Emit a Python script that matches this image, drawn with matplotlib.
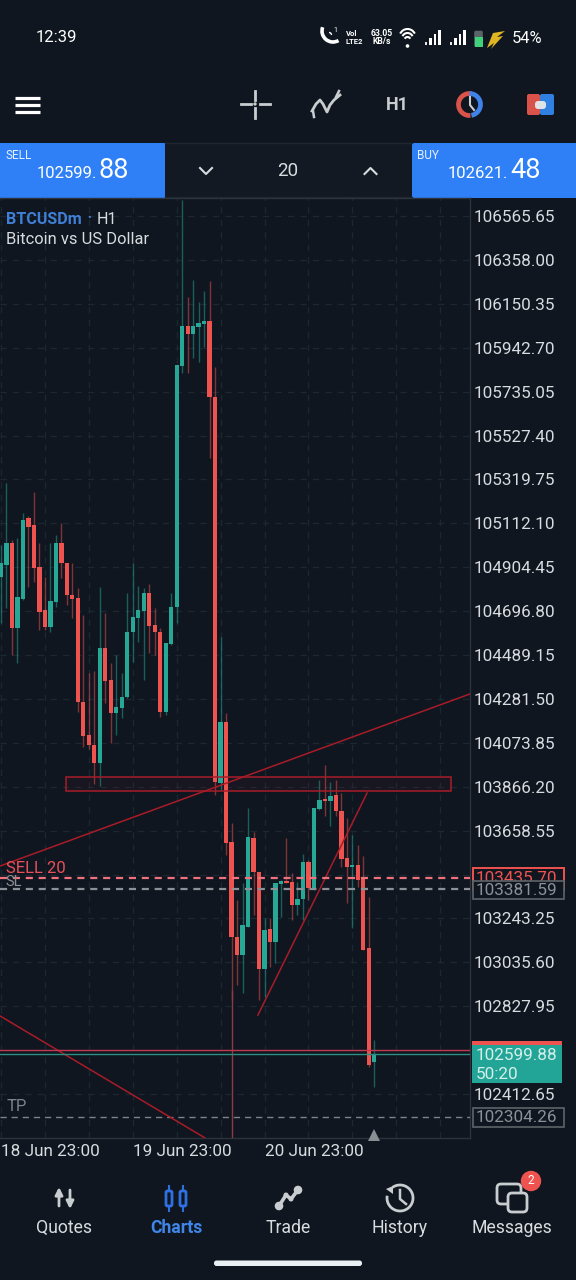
import matplotlib
matplotlib.use("Agg")
import matplotlib.pyplot as plt
from matplotlib.patches import Rectangle, FancyBboxPatch, Circle, Arc, Polygon

plt.rcParams['font.family'] = ['Roboto', 'DejaVu Sans']

# hourly candles
opens = [104858, 104915, 105019, 104617, 104754, 105137, 105104, 104905, 104702, 104622,
         104740, 105019, 104924, 104773, 104759, 104267, 104111, 104063, 103978, 104522,
         104371, 104215, 104238, 104291, 104598, 104664, 104697, 104782, 104631, 104598,
         104220, 104541, 104716, 105856, 106045, 106008, 106041, 106055, 106069, 105710,
         103884, 104172, 103605, 103155, 103070, 103203, 103624, 103463, 103004, 103193,
         103132, 103406, 103420, 103415, 103307, 103335, 103510, 103387, 103761, 103808,
         103799, 103827, 103751, 103529, 103486, 103496, 103434, 103103, 102564]
highs = [105009, 105303, 105033, 105042, 105161, 105147, 105260, 105019, 104858, 105019,
         105057, 105113, 104924, 104924, 104806, 104678, 104404, 104413, 104811, 104688,
         104451, 104489, 104404, 104782, 104924, 104816, 104806, 104825, 104711, 104617,
         104546, 104782, 105861, 106641, 106183, 106263, 106159, 106211, 106258, 105851,
         104574, 104215, 103695, 103330, 103411, 103766, 103652, 103463, 103245, 103245,
         103411, 103425, 103624, 103458, 103415, 103548, 103519, 103766, 103898, 103969,
         103889, 103898, 103836, 103718, 103638, 103590, 103538, 103344, 102668]
lows = [104640, 104711, 104489, 104451, 104749, 104811, 104834, 104607, 104607, 104598,
        104716, 104853, 104726, 104664, 104220, 104054, 104045, 103879, 103870, 104262,
        104073, 104111, 104191, 104286, 104456, 104551, 104371, 104499, 104489, 104196,
        104205, 104536, 104640, 105823, 105823, 105894, 105875, 105946, 105421, 103827,
        103851, 103543, 102857, 102928, 102890, 103203, 103259, 102857, 102872, 103013,
        103032, 103250, 103411, 103236, 103259, 103236, 103330, 103378, 103756, 103727,
        103680, 103727, 103486, 103316, 103198, 103392, 103094, 102541, 102446]
closes = [104924, 105019, 104617, 104763, 105128, 105095, 104901, 104693, 104622, 104745,
          105019, 104924, 104773, 104754, 104267, 104106, 104063, 103978, 104522, 104366,
          104215, 104243, 104291, 104598, 104669, 104702, 104782, 104626, 104598, 104220,
          104546, 104716, 105861, 106045, 106008, 106045, 106059, 106069, 105710, 103889,
          104172, 103600, 103155, 103070, 103212, 103628, 103463, 103004, 103188, 103132,
          103411, 103420, 103411, 103307, 103335, 103510, 103387, 103766, 103803, 103799,
          103822, 103751, 103524, 103486, 103496, 103425, 103094, 102550, 102597]

price_ticks = [106565.65, 106358.00, 106150.35, 105942.70, 105735.05, 105527.40, 105319.75,
               105112.10, 104904.45, 104696.80, 104489.15, 104281.50, 104073.85, 103866.20,
               103658.55, 103450.90, 103243.25, 103035.60, 102827.95, 102620.30, 102412.65]
hidden_ticks = [103450.90, 102620.30]  # sit under the price boxes
time_tick_pos = [0, 24, 48]
time_labels = ['18 Jun 23:00', '19 Jun 23:00', '20 Jun 23:00']

ask = 102621.48
bid = 102599.88
sell_price = 103435.70
sl_price = 103381.59
tp_price = 102304.26

box_x = [11.84, 81.97]
box_y = [103846, 103912]
trend1_x = [-0.18, 85.43]
trend1_y = [103491, 104305]
trend2_x = [46.8, 66.67]
trend2_y = [102786, 103836]
trend3_x = [-0.18, 37.16]
trend3_y = [102782, 102205]
line_x = [42, 42]
line_y = [102205, 102900]

BG = '#0f1620'
GRID = '#1d2732'
FRAME = '#2b333c'
GREEN = '#27a897'
RED = '#ef5350'
LINE_RED = '#a81c28'
BLUE = '#2f80f6'
TXT = '#d8dcdf'
ICON = '#c9cdd0'

# chart area in screen pixels
AX_L, AX_R, AX_T, AX_B = 0, 470, 198, 1138
YMIN, YMAX = 102204.6, 106650.8
XMIN, XMAX = -0.18, 85.43


def price_px(p):
    return AX_T + (YMAX - p) / (YMAX - YMIN) * (AX_B - AX_T)


fig = plt.figure(figsize=(5.76, 12.8), dpi=100, facecolor=BG)

# full screen axes for the app chrome, in pixels
ui = fig.add_axes([0, 0, 1, 1], zorder=1)
ui.set_xlim(0, 576)
ui.set_ylim(1280, 0)
ui.axis('off')

ax = fig.add_axes([AX_L / 576, 1 - AX_B / 1280, (AX_R - AX_L) / 576, (AX_B - AX_T) / 1280], zorder=2)
ax.set_facecolor('none')
ax.set_xlim(XMIN, XMAX)
ax.set_ylim(YMIN, YMAX)

idx = list(range(len(opens)))
wick_colors = [GREEN if c >= o else RED for o, c in zip(opens, closes)]
ax.vlines(idx, lows, highs, colors=wick_colors, linewidth=1.0, alpha=0.5, zorder=3)
bottoms = [min(o, c) for o, c in zip(opens, closes)]
heights = [abs(o - c) for o, c in zip(opens, closes)]
ax.bar(idx, heights, width=0.78, bottom=bottoms, color=wick_colors, linewidth=0, zorder=4)

ax.plot(line_x, line_y, color='#8c3a44', lw=1.0, zorder=3)
ax.plot(trend1_x, trend1_y, color=LINE_RED, lw=1.1, zorder=5)
ax.plot(trend2_x, trend2_y, color=LINE_RED, lw=1.1, zorder=5)
ax.plot(trend3_x, trend3_y, color=LINE_RED, lw=1.1, zorder=5)
ax.add_patch(Rectangle((box_x[0], box_y[0]), box_x[1] - box_x[0], box_y[1] - box_y[0],
                       fc='#c0202a', alpha=0.05, ec='none', zorder=2))
ax.add_patch(Rectangle((box_x[0], box_y[0]), box_x[1] - box_x[0], box_y[1] - box_y[0],
                       fc='none', ec=LINE_RED, lw=1.1, zorder=5))

ax.axhline(ask, color='#c23a50', lw=1.0, zorder=5)
ax.axhline(bid, color='#2b8f80', lw=1.0, zorder=5)
ax.axhline(sell_price, color='#f0707c', lw=1.6, ls=(0, (3.2, 2.6)), zorder=6)
ax.axhline(sl_price, color='#8b9196', lw=1.6, ls=(0, (3.2, 2.6)), zorder=6)
ax.axhline(tp_price, color='#7d8388', lw=1.0, ls=(0, (4.5, 3.5)), zorder=3)

ax.text(0.9, sell_price + 46, 'SELL 20', color='#e8505a', fontsize=12, va='center', zorder=7)
ax.text(0.9, sell_price - 20, 'SL', color='#8b9196', fontsize=10.5, va='center', zorder=7)
ax.text(1.0, tp_price + 50, 'TP', color='#7d8388', fontsize=12, va='center', zorder=7)

ax.text(6 / 470, 1 - 21 / 940, 'BTCUSDm', color='#3f7fd6', fontsize=11.6, fontweight='bold',
        va='center', transform=ax.transAxes, zorder=7)
ax.text(89 / 470, 1 - 20 / 940, '•', color='#3f7fd6', fontsize=8, va='center', ha='center',
        transform=ax.transAxes, zorder=7)
ax.text(97 / 470, 1 - 21 / 940, 'H1', color=TXT, fontsize=11.6, va='center',
        transform=ax.transAxes, zorder=7)
ax.text(6 / 470, 1 - 41 / 940, 'Bitcoin vs US Dollar', color=TXT, fontsize=11.85, va='center',
        transform=ax.transAxes, zorder=7)

ax.yaxis.tick_right()
ax.set_yticks(price_ticks)
ax.set_yticklabels(['' if p in hidden_ticks else f'{p:.2f}' for p in price_ticks])
ax.set_xticks(range(0, 86, 8))
ax.set_xticklabels([time_labels[time_tick_pos.index(i)] if i in time_tick_pos else ''
                    for i in range(0, 86, 8)], ha='left')
ax.tick_params(axis='y', length=0, pad=2.5, labelcolor=TXT, labelsize=12.3)
ax.tick_params(axis='x', length=0, pad=4, labelcolor=TXT, labelsize=12.3)
ax.grid(True, color=GRID, lw=0.9, ls=(0, (5, 5)), zorder=0)
ax.set_axisbelow(True)
for side in ax.spines:
    ax.spines[side].set_color(FRAME)
    ax.spines[side].set_linewidth(1.0)
ax.spines['left'].set_visible(False)

# last candle marker under the chart
ax.plot([idx[-1]], [0.003], marker='^', ms=8, color='#8a8f94', mew=0,
        transform=ax.get_xaxis_transform(), clip_on=False, zorder=7)

# price boxes right of the chart
y = price_px(sell_price)
ui.add_patch(Rectangle((473, y - 10), 91, 22, fc=BG, ec=RED, lw=1.4, zorder=2))
ui.text(476, y + 1, f'{sell_price:.2f}', color=RED, fontsize=12.3, va='center', zorder=3)
y = price_px(sl_price)
ui.add_patch(Rectangle((473, y - 8), 91, 18, fc=BG, ec='#5d6469', lw=1.2, zorder=4))
ui.text(476, y + 1, f'{sl_price:.2f}', color='#8b9196', fontsize=12.3, va='center', zorder=5)
y = price_px(ask)
ui.add_patch(Rectangle((472, y - 9), 90, 22, fc=RED, ec='none', zorder=2))
ui.text(476, y + 3, f'{ask:.2f}', color='white', fontsize=12.3, va='center', zorder=3)
y = price_px(bid)
ui.add_patch(Rectangle((472, y - 9), 90, 38, fc='#22a596', ec='none', zorder=4))
ui.text(476, y + 1, f'{bid:.2f}', color='#d5efeb', fontsize=12.3, va='center', zorder=5)
ui.text(476, y + 20, '50:20', color='#d5efeb', fontsize=12.3, va='center', zorder=5)
y = price_px(tp_price)
ui.add_patch(Rectangle((473, y - 9), 91, 19, fc=BG, ec='#5d6469', lw=1.2, zorder=4))
ui.text(476, y + 1, f'{tp_price:.2f}', color='#8b9196', fontsize=12.3, va='center', zorder=5)

# status bar
ui.text(36, 37.5, '12:39', color='white', fontsize=12, va='center')
ui.text(333, 31, '1', color='white', fontsize=5, va='center')
ui.text(346, 34, 'Vol', color='white', fontsize=5.5, va='center', fontweight='bold')
ui.text(346, 42, 'LTE2', color='white', fontsize=5.5, va='center', fontweight='bold')
ui.text(382, 33, '63.05', color='white', fontsize=6.2, va='center', ha='center', fontweight='bold')
ui.text(382, 42, 'KB/s', color='white', fontsize=6.2, va='center', ha='center', fontweight='bold')
ui.text(512, 38.5, '54%', color='white', fontsize=11.8, va='center')
# phone glyph
ui.add_patch(Arc((333, 31), 22, 22, theta1=60, theta2=200, color='white', lw=2.6))
ui.add_patch(Arc((329, 35), 5, 5, theta1=270, theta2=360, color='white', lw=1))
# wifi
for r, top in [(16, 29), (11, 33), (6, 37)]:
    ui.add_patch(Arc((407.5, top + r / 2), r, r, theta1=205, theta2=335, color='white', lw=1.5))
ui.add_patch(Circle((407.5, 46), 1.1, color='white'))
# signal bars
for x0 in [425, 450]:
    for k, h in enumerate([3, 7, 11, 15]):
        ui.add_patch(Rectangle((x0 + k * 4.4, 45 - h), 2.4, h, fc='white', ec='none',
                               alpha=1 if k else 0.9))
# battery and bolt
ui.add_patch(FancyBboxPatch((474.5, 31), 8, 15.5, boxstyle='round,pad=0.3,rounding_size=1.5',
                            fc='#5a6466', ec='none'))
ui.add_patch(Rectangle((474.5, 37), 8, 10, fc='#3fd07a', ec='none'))
ui.add_patch(Polygon([[505, 31], [493, 33], [487, 48], [494, 43], [491, 49], [503, 36], [497, 37]],
                     fc='#e0b522', ec='none'))

# toolbar
for yy in [97.5, 104.5, 111.5]:
    ui.plot([15, 40], [yy, yy], color='white', lw=2.3, solid_capstyle='butt')
for seg in [([241, 251], [104, 104]), ([259.5, 269.5], [104, 104]), ([255, 255], [91, 100]), ([255, 255], [108, 118])]:
    ui.plot(seg[0], seg[1], color=ICON, lw=2)
ui.add_patch(Circle((255, 104), 1, color=ICON))
ui.plot([312, 316, 320, 323, 327, 330, 334, 340], [111, 104, 100, 104, 112, 105, 100, 95],
        color=ICON, lw=2)
ui.plot([313, 314], [111, 117], color=ICON, lw=1.8)
ui.plot([336, 339], [97, 91], color=ICON, lw=1.8)
ui.text(397, 104.5, 'H1', color=ICON, fontsize=13, fontweight='bold', va='center', ha='center')
ui.add_patch(Arc((469.5, 104.5), 22, 22, theta1=85, theta2=280, color='#d9534a', lw=3.4))
ui.add_patch(Arc((469.5, 104.5), 22, 22, theta1=270, theta2=80, color='#3f82e8', lw=3.4))
ui.plot([470, 470, 474], [97, 105, 110], color=ICON, lw=1.5)
ui.add_patch(FancyBboxPatch((527, 94), 13, 21, boxstyle='round,pad=0,rounding_size=2', fc='#d9534a', ec='none'))
ui.add_patch(FancyBboxPatch((540, 94), 14, 21, boxstyle='round,pad=0,rounding_size=2', fc='#2f80e0', ec='none'))
ui.add_patch(FancyBboxPatch((535, 101), 11, 8, boxstyle='round,pad=0,rounding_size=3', fc='#dfe3e6', ec='none'))

# sell / buy strip
ui.add_patch(Rectangle((0, 143), 165, 54.5, fc=BLUE, ec='none'))
ui.add_patch(Rectangle((412, 143), 164, 54.5, fc=BLUE, ec='none'))
ui.add_patch(Rectangle((165, 143), 247, 54.5, fc='#121923', ec='none'))
ui.plot([165, 412], [143, 143], color='#1e2630', lw=1)
ui.plot([165, 412], [197, 197], color='#1e2630', lw=1)
ui.text(5, 155.5, 'SELL', color='#e6f0ff', fontsize=8.5, va='center')
ui.text(417, 155.5, 'BUY', color='#e6f0ff', fontsize=8.5, va='center')
ui.text(97, 173.5, '102599.', color='white', fontsize=12, va='center', ha='right')
ui.text(99, 170, '88', color='white', fontsize=19.5, va='center', ha='left')
ui.text(508, 173.5, '102621.', color='white', fontsize=12, va='center', ha='right')
ui.text(510, 170, '48', color='white', fontsize=19.5, va='center', ha='left')
ui.text(288, 171.5, '20', color=TXT, fontsize=13.5, va='center', ha='center')
ui.plot([200, 206, 212], [168, 174, 168], color=TXT, lw=1.5)
ui.plot([364.5, 370.5, 376.5], [174, 168, 174], color=TXT, lw=1.5)

# bottom navigation
nav_x = [64, 176, 288, 400, 512]
nav_labels = ['Quotes', 'Charts', 'Trade', 'History', 'Messages']
for nx, lab in zip(nav_x, nav_labels):
    col = '#3f86e8' if lab == 'Charts' else TXT
    ui.text(nx, 1228, lab, color=col, fontsize=12.7, va='center', ha='center',
            fontweight='bold' if lab == 'Charts' else 'normal')
# quotes arrows
ui.annotate('', xy=(59, 1187), xytext=(59, 1206), arrowprops=dict(arrowstyle='-|>', color=ICON, lw=2, shrinkA=0, shrinkB=0, mutation_scale=11))
ui.annotate('', xy=(70, 1209), xytext=(70, 1190), arrowprops=dict(arrowstyle='-|>', color=ICON, lw=2, shrinkA=0, shrinkB=0, mutation_scale=11))
# charts candles
for cx in [169, 183]:
    ui.plot([cx, cx], [1186, 1211], color='#2f6fe0', lw=1.5)
    ui.add_patch(FancyBboxPatch((cx - 3, 1191), 6, 15, boxstyle='round,pad=0,rounding_size=1.5',
                                fc=BG, ec='#2f6fe0', lw=2, zorder=3))
# trade zigzag
ui.plot([279, 286, 291, 298], [1206, 1195, 1199, 1190], color=ICON, lw=2.6)
for px_, py_ in [(279, 1206), (286, 1195), (291, 1199), (298, 1190)]:
    ui.add_patch(Circle((px_, py_), 3.6 if px_ in (279, 298) else 1.8, color=ICON))
# history clock
ui.add_patch(Arc((400, 1198), 26, 26, theta1=235, theta2=190, color=ICON, lw=2))
ui.add_patch(Polygon([[386, 1189], [393, 1186], [393, 1194]], fc=ICON, ec='none'))
ui.plot([400, 400, 406], [1190, 1199, 1204], color=ICON, lw=1.8)
# messages bubbles
ui.add_patch(FancyBboxPatch((497, 1184), 24, 20, boxstyle='round,pad=0,rounding_size=4',
                            fc=BG, ec=ICON, lw=2, zorder=2))
ui.add_patch(FancyBboxPatch((508, 1193), 19, 19, boxstyle='round,pad=0,rounding_size=4',
                            fc=BG, ec=ICON, lw=2, zorder=3))
ui.add_patch(Circle((531, 1181), 9.5, color='#ee5350', zorder=4))
ui.text(531, 1181, '2', color='white', fontsize=8.5, va='center', ha='center', zorder=5)
# home bar
ui.add_patch(FancyBboxPatch((214, 1260.5), 148, 5.5, boxstyle='round,pad=0,rounding_size=2.5',
                            fc='#e9eff3', ec='none'))

fig.savefig('out.png', dpi=100, facecolor=BG)
